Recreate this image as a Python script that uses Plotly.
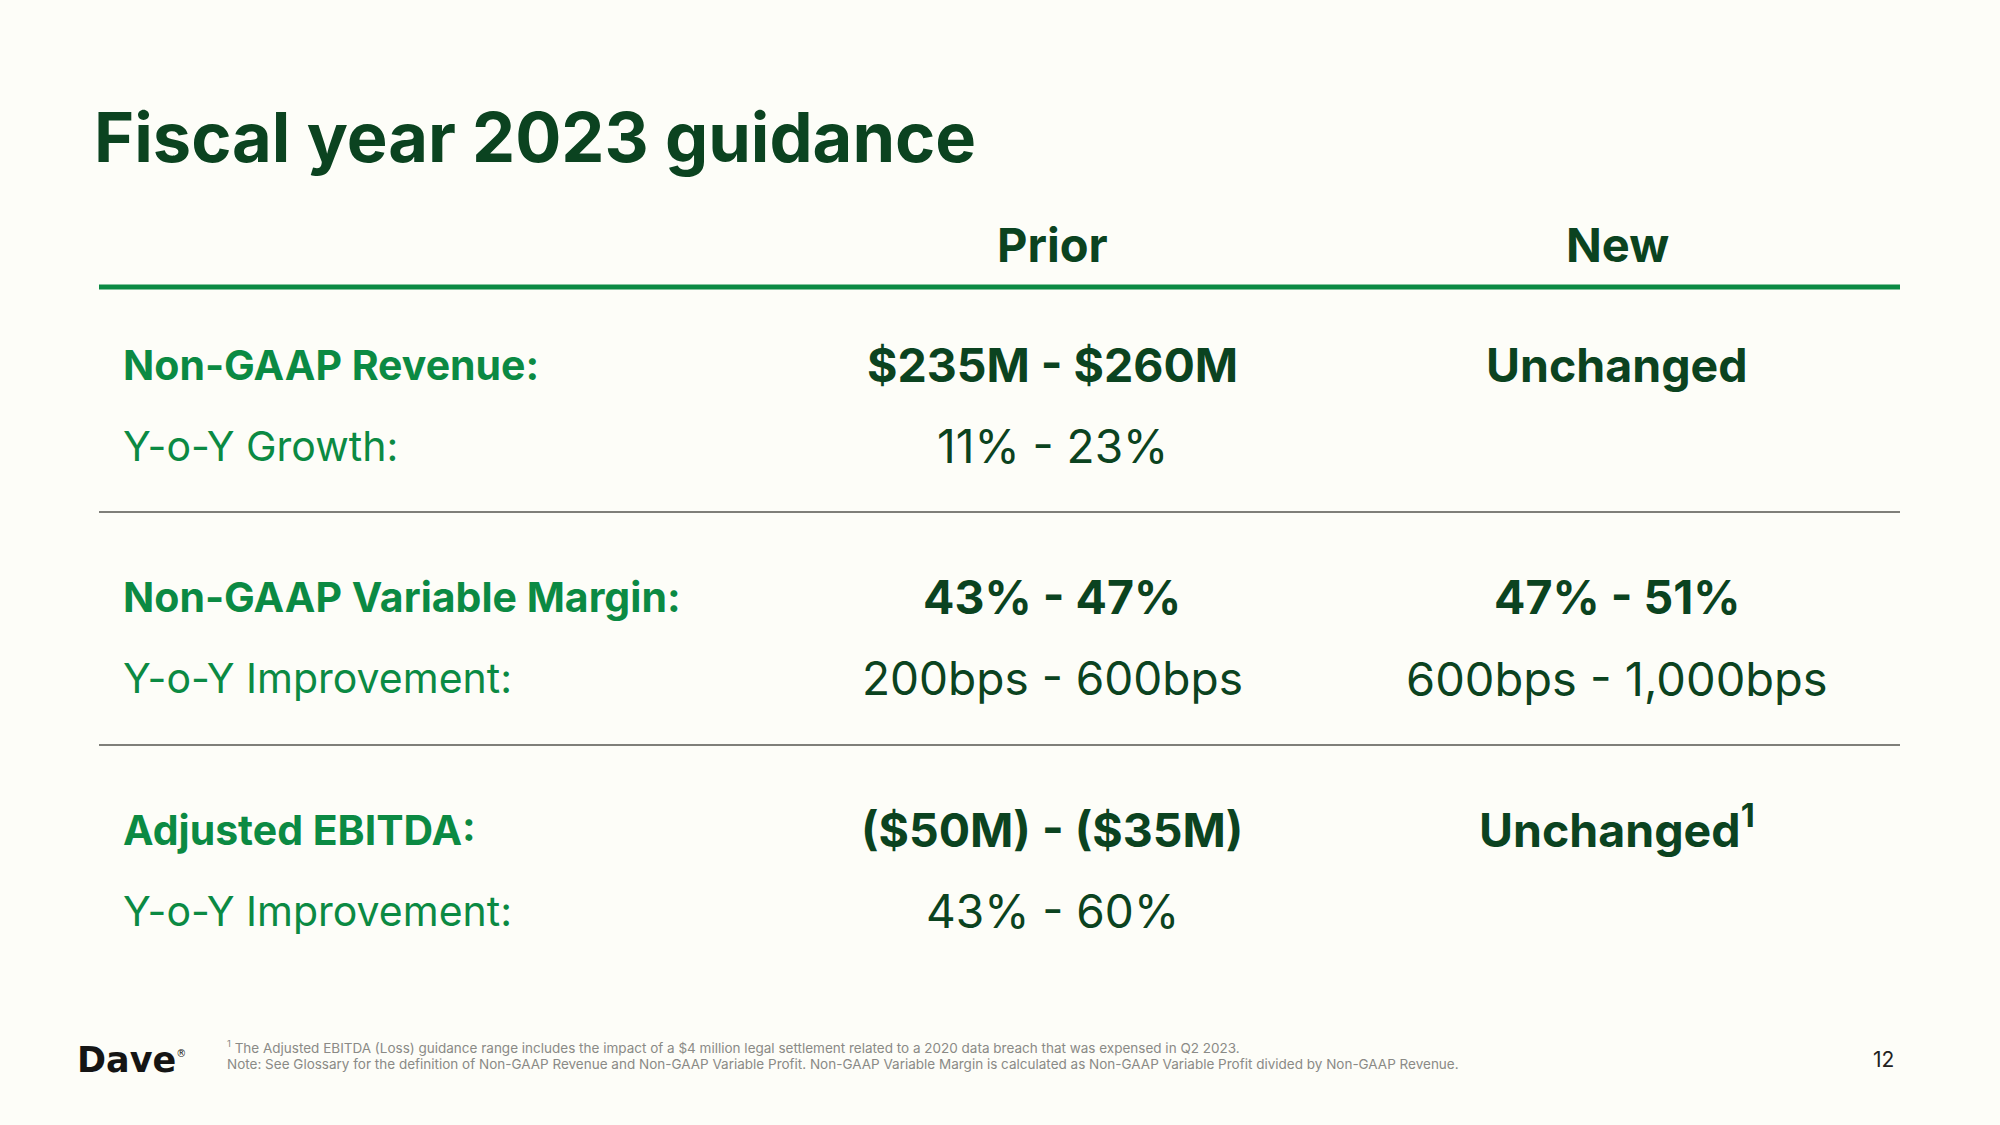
import plotly.graph_objects as go

title = "Fiscal year 2023 guidance"
col_headers = ["Prior", "New"]
row_labels = ["Non-GAAP Revenue:", "Non-GAAP Variable Margin:", "Adjusted EBITDA:"]
row_sublabels = ["Y-o-Y Growth:", "Y-o-Y Improvement:", "Y-o-Y Improvement:"]
prior_main = ["$235M - $260M", "43% - 47%", "($50M) - ($35M)"]
prior_sub = ["11% - 23%", "200bps - 600bps", "43% - 60%"]
new_main = ["Unchanged", "47% - 51%", "Unchanged"]
new_main_note = ["", "", "1"]
new_sub = ["", "600bps - 1,000bps", ""]
footnotes = [
    "<sup>1</sup> The Adjusted EBITDA (Loss) guidance range includes the impact of a $4 million legal settlement related to a 2020 data breach that was expensed in Q2 2023.",
    "Note: See Glossary for the definition of Non-GAAP Revenue and Non-GAAP Variable Profit. Non-GAAP Variable Margin is calculated as Non-GAAP Variable Profit divided by Non-GAAP Revenue.",
]
page_number = "12"
logo_text = "Dave"

BG = "#FDFDF8"
DARK = "#0B4320"
GREEN = "#0B8A43"
FONT = "Inter"

fig = go.Figure()
fig.add_trace(go.Scatter(x=[0, 2000], y=[0, 1125], mode="markers",
                         marker=dict(opacity=0), hoverinfo="skip", showlegend=False))

ann = []
def add(text, x, y, size, color, bold=False, xanchor="left", yanchor="middle", family=FONT):
    if bold:
        text = "<b>" + text + "</b>"
    ann.append(dict(text=text, x=x, y=y, xref="x", yref="y", showarrow=False,
                    xanchor=xanchor, yanchor=yanchor,
                    font=dict(family=family, size=size, color=color)))

add(title, 92, 137, 68.5, DARK, bold=True)
col_x = [1052, 1617]
for cx, h in zip(col_x, col_headers):
    add(h, cx, 244, 47, DARK, bold=True, xanchor="center")

row_y = [365, 597, 830]
sub_dy = 81
for i in range(3):
    y = row_y[i]
    add(row_labels[i], 121, y, 41, GREEN, bold=True)
    add(row_sublabels[i], 121, y + sub_dy, 41, GREEN)
    add(prior_main[i], col_x[0], y, 46.5, DARK, bold=True, xanchor="center")
    add(prior_sub[i], col_x[0], y + sub_dy, 46, DARK, xanchor="center")
    if new_main[i]:
        txt = "<b>" + new_main[i] + "</b>"
        if new_main_note[i]:
            txt += "<sup><b>" + new_main_note[i] + "</b></sup>"
        add(txt, col_x[1], y - (4 if new_main_note[i] else 0), 46.5, DARK, xanchor="center")
    if new_sub[i]:
        add(new_sub[i], col_x[1], y + sub_dy, 47, DARK, xanchor="center")

add(footnotes[0], 225, 1047, 13.5, "#8A8A86")
add(footnotes[1], 225, 1064, 13.5, "#8A8A86")
add(page_number, 1883, 1059, 21, "#222222", xanchor="center")
add("<b>" + logo_text + "</b><sup><span style='font-size:10px'>®</span></sup>", 75, 1060, 35,
    "#151515", family="DejaVu Sans")

shapes = [
    dict(type="line", x0=99, x1=1900, y0=287, y1=287, xref="x", yref="y",
         line=dict(color="#0B8A43", width=5)),
    dict(type="line", x0=99, x1=1900, y0=512, y1=512, xref="x", yref="y",
         line=dict(color="#555550", width=1.6)),
    dict(type="line", x0=99, x1=1900, y0=745, y1=745, xref="x", yref="y",
         line=dict(color="#555550", width=1.6)),
]

fig.update_layout(
    width=2000, height=1125,
    margin=dict(l=0, r=0, t=0, b=0),
    paper_bgcolor=BG, plot_bgcolor=BG,
    xaxis=dict(range=[0, 2000], visible=False, fixedrange=True),
    yaxis=dict(range=[1125, 0], visible=False, fixedrange=True),
    annotations=ann, shapes=shapes, showlegend=False,
)
fig.write_html("out.html", config={"displayModeBar": False},
               post_script="document.body.style.margin='0';document.body.style.background='%s';document.body.style.overflow='hidden';" % BG)
